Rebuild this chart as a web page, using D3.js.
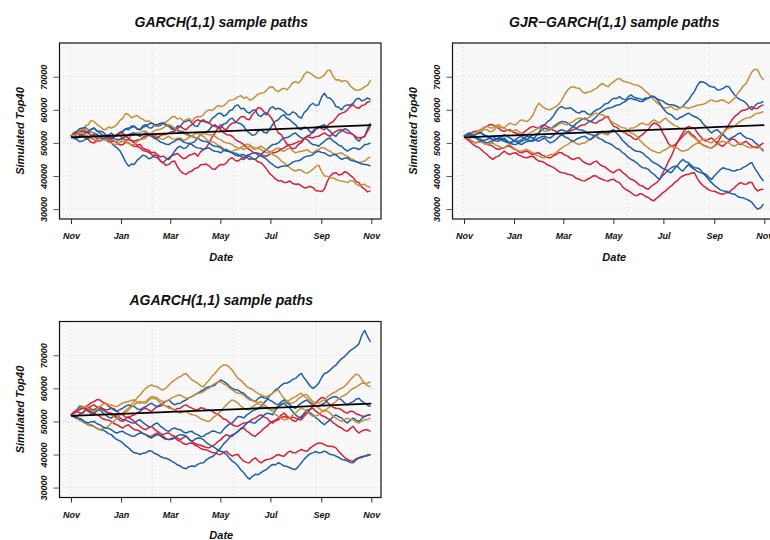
<!DOCTYPE html>
<html>
<head>
<meta charset="utf-8">
<script src="https://cdn.jsdelivr.net/npm/d3@7"></script>
<style>
  html, body { margin: 0; padding: 0; background: #ffffff; }
  svg { display: block; }
  text { font-family: "Liberation Sans", Arial, Helvetica, sans-serif; font-weight: bold; font-style: italic; fill: #111; }
</style>
</head>
<body>
<svg id="chart" width="770" height="540"></svg>
<script>
// Simulated Top40 index paths, twice-weekly observations from 1 Nov 2019 to 31 Oct 2020,
// in thousands of index points.

// ---- GARCH(1,1) ----
const garch1 = [52, 52.9, 53, 53.2, 54, 53.1, 53, 54.1, 54.5, 53.6, 53.5, 53.4, 52.5, 52.2, 53, 52.1, 52, 53.1, 53.5, 54.3, 54, 55.1, 55, 54.1, 54, 55.2, 55.5, 54.6, 54.5, 55.4, 55, 55.3, 56, 55.2, 55, 54.2, 54, 55.1, 55, 56.2, 56.5, 56.9, 56, 55.1, 55, 56.5, 57, 56.2, 56, 57.4, 58, 58.9, 59, 58.1, 58.5, 59.7, 60, 61.2, 61.5, 60.3, 60.5, 59.4, 59, 59.8, 60, 58.4, 58, 58.9, 58.5, 60.3, 61, 60.2, 60.5, 60.1, 59.5, 58.6, 58.5, 59.4, 59, 57.9, 57.5, 59.2, 60, 61.3, 62, 61.3, 61.5, 63.8, 65, 63.7, 63.5, 62.6, 61, 60.8, 60, 61.2, 61.5, 61.4, 62, 63.2, 63.5, 62.7, 63, 63.6, 63];
const garch2 = [52, 52.6, 51.5, 51.9, 52.5, 51.4, 51, 50.2, 50, 50.9, 50.5, 51.2, 51.5, 52.4, 52, 51.7, 52.5, 52.1, 51.5, 50.8, 51, 50.7, 50, 49.3, 49.5, 48.4, 48, 47.8, 47, 47.2, 46.5, 45.8, 46, 45.4, 45, 46.1, 46.5, 46.8, 46, 45.2, 45.5, 46.3, 46.5, 46.9, 46, 47.3, 48, 48.6, 50, 51.8, 53, 54.6, 55.5, 54.3, 54, 55.3, 56, 56.1, 57, 57.9, 58, 57.2, 57, 58.6, 59.5, 60.7, 60.5, 59.4, 59, 58.2, 57, 54.8, 53, 52.5, 51, 49.6, 49, 48.2, 48.5, 49.6, 50, 51.3, 52, 52.4, 53.5, 54.5, 55, 54.3, 54, 55.2, 56, 56.4, 57.5, 58.6, 59, 59.3, 60, 61, 61.5, 60.7, 60.5, 61.3, 61.5, 62.4, 62.5];
const garch3 = [52, 52.8, 53, 53.9, 54, 55.2, 55.5, 56.8, 56.5, 55.6, 55, 54.2, 54, 54.8, 54.5, 54.9, 55.5, 56.8, 57.5, 58.9, 58.5, 57.6, 58, 58.3, 57.5, 57.1, 56.5, 56.7, 56, 55.2, 55, 55.9, 56, 56.3, 57, 57.8, 58, 57.2, 57.5, 56.6, 57, 57.4, 56.5, 57.6, 58, 57.9, 58.5, 59.6, 60, 59.8, 60.5, 61.3, 61, 61.2, 62, 62.9, 63, 63.3, 64, 64.3, 63.5, 63.9, 63, 63.2, 64, 64.8, 65, 65.2, 66, 66.9, 67, 65.9, 65.5, 66.2, 66.5, 66.1, 67, 68.2, 68.5, 68.1, 69, 70.7, 71.5, 71.1, 70.5, 69.8, 69.5, 69.9, 70.5, 71.8, 72, 70.2, 69, 69.1, 68.5, 68.9, 68.5, 67.2, 66.5, 65.9, 66, 66.3, 67, 67.4, 69];
const garch4 = [52, 53.1, 53.5, 54.3, 54.5, 54.6, 54, 53.2, 53, 52.7, 52, 51.2, 51, 50.8, 50, 49.1, 48.5, 47.6, 46, 44.2, 43, 43.6, 43.5, 44.8, 45.5, 46.3, 46, 45.2, 45.5, 46.4, 46, 44.6, 44, 44.9, 45.5, 46.2, 47.5, 48.6, 49, 48.3, 48.5, 49.6, 50, 50.4, 51.5, 52.6, 53, 53.2, 54, 55.1, 55.5, 54.8, 54.5, 55.7, 56, 57.1, 57.5, 56.4, 56, 55.8, 55, 53.6, 53, 52.3, 52.5, 53.6, 54, 53.2, 53, 54.2, 55.5, 56.6, 57, 58.1, 58.5, 57.4, 57, 56.1, 55.5, 54.3, 54, 54.8, 54.5, 53.4, 53, 54.1, 54.5, 55.2, 55.5, 54.2, 53.5, 52.4, 52, 53.1, 53.5, 54.3, 54, 53.1, 52.5, 51.2, 50.5, 51.6, 52, 54.3, 56];
const garch5 = [52, 52.7, 53, 52.4, 52.5, 51.8, 51.5, 51.6, 51, 50.4, 50.5, 51.1, 51, 50.3, 50.5, 50.6, 50, 49.4, 49.5, 50.2, 50, 49.3, 49, 48.9, 48.5, 47.7, 47.5, 47.2, 46.5, 45.7, 45.5, 44.6, 44, 43.2, 43.5, 44.3, 44.5, 42.7, 41.5, 40.8, 40.5, 41.2, 41.5, 42.3, 42.5, 43.4, 43.5, 43.6, 43, 42.2, 42, 42.9, 43.5, 43.4, 44, 45.1, 45.5, 44.7, 44.5, 45.2, 45, 45.8, 46, 45.2, 45, 44.2, 44, 43.1, 42, 40.7, 40, 39.1, 38.5, 38.6, 38, 38.1, 38.5, 37.7, 37.5, 37.6, 37, 36.4, 36.5, 36.9, 36.5, 35.6, 35.5, 35.3, 36, 38.4, 40, 40.8, 41, 40.3, 40.5, 41.3, 41, 40.2, 39.5, 38.3, 38, 36.6, 36, 35.2, 35.5];
const garch6 = [52, 52.4, 52.5, 53.3, 53.5, 54.3, 54, 53.2, 53, 52.7, 52, 51.3, 51, 51.7, 51.5, 50.6, 50.5, 50.9, 51, 51.8, 51.5, 52.2, 52.5, 53.1, 53, 53.6, 53.5, 52.8, 52.5, 52.4, 52, 51.3, 51, 51.6, 52, 51.3, 51, 51.4, 51.5, 50.8, 51, 51.7, 52, 52.8, 53, 52.3, 52, 51.1, 50.5, 50.4, 50, 49.3, 49, 48.2, 48, 47.4, 47.5, 47.9, 48, 48.7, 49, 49.6, 49.5, 48.8, 48.5, 48.4, 48, 47.3, 47, 47.4, 47.5, 48.2, 48.5, 47.8, 47.5, 48.1, 48.5, 47.6, 47, 47.3, 47.5, 47.6, 48, 47.3, 47, 47.7, 48, 48.6, 48.5, 47.8, 47.5, 46.8, 46.5, 46.9, 47, 46.3, 46, 45.3, 45, 44.3, 44, 44.3, 44.5, 45.3, 45.8];
const garch7 = [52, 51.6, 51.5, 52.2, 52.5, 53.2, 53.5, 54.1, 54.5, 53.6, 53, 52.3, 52, 51.5, 51.5, 52.1, 52.5, 53.2, 53.5, 54.3, 54.5, 54.6, 55, 54.3, 54, 54.7, 55, 55.7, 56, 55.6, 55.5, 55.9, 56, 55.6, 55.5, 54.6, 54, 53.9, 53.5, 53.4, 53, 52.3, 52, 51.6, 51.5, 50.8, 50.5, 50.4, 50, 49.3, 49, 48.9, 48.5, 47.8, 47.5, 47.4, 47, 46.3, 46, 46.4, 46.5, 45.6, 45, 45.3, 45, 45.8, 46.5, 47.3, 48, 48.8, 49.5, 49.6, 50, 50.9, 51.5, 51.6, 52, 52.7, 53, 52.1, 51.5, 51.4, 51, 50.1, 49.5, 49.4, 49, 49.8, 50.5, 51.2, 51.5, 50.6, 50, 49.3, 49, 48.1, 47.5, 48.1, 48.5, 48.4, 48, 48.6, 49.5, 49.6, 50];
const garch8 = [52, 52.1, 52.5, 53.2, 53.5, 53.6, 53, 52.3, 52, 51.4, 51.5, 52.1, 52, 51.3, 51, 51.9, 52.5, 53.1, 53, 52.1, 51.5, 50.7, 50.5, 50.9, 51, 51.7, 52, 52.6, 52.5, 51.8, 51.5, 52.2, 52.5, 52.6, 53, 53.4, 53.5, 54.4, 55, 54.3, 54, 54.9, 55.5, 56.4, 57, 56.6, 56.5, 56.4, 56, 55.3, 55, 54.7, 54, 53.1, 52.5, 52.4, 52, 51.1, 50.5, 50.1, 49.5, 48.6, 48, 47.3, 47, 46.9, 46.5, 46.1, 46, 46.6, 47, 47.1, 47.5, 48.2, 48.5, 49.1, 49.5, 49.6, 50, 50.4, 50.5, 51.4, 52, 51.6, 51.5, 51.9, 52, 52.6, 53, 52.4, 52, 52.9, 53.5, 53.9, 54, 53.4, 53, 52.9, 52.5, 51.8, 51.5, 51.6, 52, 53.6, 55];
const garch9 = [52, 52.3, 52.5, 53.1, 53, 52.4, 52, 51.3, 51, 50.6, 50.5, 50.9, 51, 50.3, 50, 49.6, 49.5, 50.2, 50.5, 50.4, 50, 49.4, 49.5, 50.4, 51, 51.1, 51.5, 52.4, 53, 53.7, 54, 54.1, 54.5, 55.2, 55.5, 55.1, 54.5, 53.6, 53, 52.9, 52.5, 52.1, 52, 51.6, 51.5, 52.4, 53, 52.6, 52.5, 52.4, 52, 51.3, 51, 50.3, 50, 49.9, 49.5, 48.9, 48.5, 48.4, 48, 48.6, 49, 48.3, 48, 48.6, 49, 48.4, 48, 47.1, 46.5, 46.1, 45.5, 44.6, 44, 43.1, 42.5, 41.8, 41.5, 41.9, 41.8, 41.1, 40.8, 41.4, 42, 42.9, 43.3, 41.4, 40, 39.9, 39.5, 39.4, 39, 38.6, 38.5, 38.3, 38, 38.6, 38.5, 37.6, 37, 37.4, 37.5, 36.8, 36.5];
const garch10 = [52, 51.4, 51, 50.4, 50.5, 51.1, 51.5, 52.1, 52.5, 52.4, 52, 51.4, 51.5, 52.1, 52, 51.3, 51, 51.1, 51.5, 52.2, 52.5, 52.9, 53, 52.4, 52, 52.7, 53, 52.3, 52, 51.4, 51, 50.3, 50, 49.6, 49.5, 50.1, 50.5, 51.1, 51, 50.3, 50, 49.9, 49.5, 48.8, 48.5, 48.4, 48, 48.4, 48.5, 47.8, 47.5, 47.4, 47, 47.7, 48, 47.4, 47, 46.9, 46.5, 45.9, 45.5, 46.2, 46.5, 46.9, 47, 46.3, 46, 45.6, 45, 44.1, 43.5, 42.8, 42.5, 42.9, 43, 43.1, 43.5, 44.2, 44.5, 44.6, 45, 45.7, 46, 46.1, 46.5, 47.2, 47.5, 47.1, 47, 46.4, 46, 46.4, 46.5, 45.6, 45, 45.4, 45.5, 44.8, 44.5, 44.4, 44, 43.6, 43.5, 43.4, 43];

// ---- GJR-GARCH(1,1) ----
const gjr1 = [52, 52.7, 53, 52.6, 52.5, 53.2, 53, 52.3, 52, 51.3, 51, 50.6, 50.5, 51.2, 51.5, 50.6, 50, 50.4, 50.5, 49.8, 49.5, 50.1, 50.5, 50.6, 51, 52.1, 53, 54.6, 55.5, 56.4, 57, 58.1, 59.5, 60.6, 61, 60.4, 60.5, 60.6, 60, 59.3, 59, 59.6, 59.5, 58.7, 58.5, 59.4, 60, 60.3, 61, 61.8, 62, 62.9, 63.5, 63.4, 64, 63.3, 63, 63.9, 64.5, 63.8, 63.5, 63.4, 63, 63.6, 63.5, 64.2, 64, 63.3, 63, 62.7, 62, 61.6, 61.5, 61.4, 61, 60.6, 61, 62.1, 63, 64.4, 65.5, 67.3, 68.5, 68.4, 68, 67.3, 67, 66.8, 66, 66.1, 66.5, 67.1, 67, 65.6, 64.5, 63.6, 63, 62.7, 62, 60.8, 60, 61.2, 62, 62.1, 62.5];
const gjr2 = [52, 52.1, 52.5, 53.3, 53.5, 53.6, 54, 54.7, 55, 55.6, 55.5, 54.8, 54.5, 53.7, 53.5, 53.9, 54, 53.3, 53, 52.6, 52.5, 53.4, 54, 54.7, 55, 54.6, 54.5, 55.2, 55.5, 54.8, 54.5, 53.8, 53.5, 52.8, 52.5, 52.9, 53, 53.7, 54, 54.4, 55, 55.4, 55.5, 56.2, 56.5, 56.1, 56, 56.7, 57, 57.8, 58, 56.2, 55, 54.7, 54, 53.3, 53, 52.4, 52, 51.2, 51, 51.9, 52.5, 53.4, 54, 55.3, 56, 55.7, 55, 53.1, 51.5, 49.8, 49, 49.3, 50, 51.1, 52, 52.9, 53.5, 52.6, 52, 50.9, 50, 49.3, 49, 48.6, 48.5, 49.1, 50, 51.6, 53, 54.2, 55.5, 56.9, 58, 58.6, 59.5, 59.9, 60, 60.6, 61, 60.4, 60.5, 61.2, 61.5];
const gjr3 = [52, 52.8, 53, 52.6, 52.5, 53.3, 53.5, 54.1, 54, 53.4, 53.5, 54.5, 55, 54.6, 54.5, 55.4, 56, 55.6, 55.5, 56.4, 57, 56.6, 56.5, 57.3, 58.5, 60.6, 62, 61.2, 60.5, 60.1, 60, 60.6, 61, 61.8, 63, 64.7, 66, 66.8, 67, 66.6, 66.5, 65.6, 65, 65.4, 65.5, 66.1, 66.5, 67.3, 68, 67.4, 67, 67.9, 68.5, 69.2, 69.5, 68.8, 68.5, 68.3, 68, 67.6, 67.5, 67.1, 66.5, 65.6, 65, 63.9, 63, 62.1, 61.5, 60.8, 60.5, 60.8, 61, 60.3, 60, 60.6, 61, 60.7, 60.5, 60.8, 61, 61.4, 61.5, 61.7, 62, 62.6, 63, 62.6, 62.5, 62.9, 63, 62.4, 62, 62.8, 63.5, 64.9, 66, 67.2, 68, 69.8, 71.5, 72.3, 72, 70.2, 69];
const gjr4 = [52, 51.6, 51.5, 52.1, 52.5, 52.9, 53, 52.4, 52, 51.4, 51, 51.2, 51.5, 50.8, 50.5, 50.1, 50, 50.6, 51, 51.7, 52, 51.4, 51, 51.9, 52.5, 52.6, 53, 53.9, 54.5, 54.1, 54, 54.9, 55.5, 56.1, 56.5, 56.4, 56, 55.3, 55, 55.9, 56.5, 57.2, 57.5, 56.8, 56.5, 57.1, 58, 58.9, 59.5, 60.1, 60.5, 60.6, 61, 61.4, 61.5, 62.1, 62.5, 63.2, 63.5, 63.1, 63, 62.6, 62.5, 63.1, 63.5, 63.9, 64, 63.2, 62, 60.6, 59.5, 58.8, 58.5, 57.6, 57, 57.7, 58, 58.6, 59, 58.4, 58, 57.6, 57, 55.8, 55, 53.8, 53, 53.7, 54, 53.1, 52.5, 51.6, 51, 51.6, 52, 52.7, 53, 52.1, 51.5, 51.3, 51, 50.1, 49.5, 48.4, 47.5];
const gjr5 = [52, 51.3, 51, 50.4, 50, 50.3, 50.5, 49.8, 49.5, 49.4, 49, 48.3, 48, 48.4, 48.5, 49.1, 49, 48.3, 48, 47.3, 47, 47.4, 47.5, 46.8, 46.5, 46.9, 47, 46.3, 46, 45.6, 45.5, 46.1, 46.5, 47.1, 47, 46.3, 46, 45.3, 45, 45.4, 45.5, 44.6, 44, 43.6, 43.5, 44.2, 44.5, 43.6, 43, 42.7, 42, 41.3, 41, 41.7, 42, 41.1, 40.5, 39.6, 39, 38.7, 38, 37.2, 37, 36.3, 36, 36.9, 37.5, 38.1, 39, 40.9, 42.5, 44.4, 46, 48.1, 50, 51.6, 53, 54.3, 55, 54.6, 54.5, 53.1, 52, 51.1, 50.5, 51.2, 51.5, 50.6, 50, 49.3, 49, 49.9, 50.5, 51.2, 51, 50.1, 49.5, 50.1, 50.5, 49.6, 49, 48.6, 48.5, 49.4, 50];
const gjr6 = [52, 51.4, 51.5, 52.3, 53, 53.7, 54, 54.6, 55, 54.6, 54.5, 55.2, 55.5, 54.9, 54.5, 53.9, 53.5, 53.6, 54, 53.4, 53, 52.6, 52.5, 53.1, 53.5, 54.1, 54.5, 53.9, 53.5, 53.6, 54, 54.6, 55, 55.7, 56, 55.6, 55.5, 56.1, 56.5, 57.2, 57.5, 57.4, 57, 57.6, 58, 58.7, 59, 58.6, 58.5, 58.1, 57.5, 56.6, 56, 55.6, 55, 54.6, 54.5, 53.6, 53, 52.7, 52, 50.9, 50, 49.1, 48.5, 47.8, 47.5, 47.1, 47, 47.6, 48, 48.6, 49, 48.6, 48.5, 47.8, 47.5, 47.7, 48, 48.9, 49.5, 49.9, 50, 49.4, 49, 48.6, 48.5, 49.1, 49.5, 50.2, 50.5, 50.1, 50, 49.3, 49, 49.6, 50, 49.4, 49, 48.6, 48.5, 48.9, 49, 48.4, 48];
const gjr7 = [52, 52.6, 53, 52.3, 52, 51.4, 51, 50.3, 50, 50.4, 50.5, 51.1, 51.5, 51.1, 51, 50.3, 50, 49.6, 49.5, 50.1, 50.5, 50.9, 51, 50.6, 50.5, 51.1, 51.5, 51.9, 52, 51.6, 51.5, 52.2, 53, 53.7, 54, 53.6, 53.5, 54.3, 55, 54.3, 54, 53.9, 53.5, 52.8, 52.5, 52.3, 52, 51.3, 51, 50.3, 50, 49.6, 49, 48.3, 48, 47.1, 46.5, 45.6, 45, 44.6, 44, 43.1, 42.5, 42.4, 42, 41.1, 40.5, 39.6, 39, 40.2, 41, 41.8, 42.5, 42.9, 43, 42.1, 41.5, 42.6, 43.5, 42.6, 42, 41.4, 41, 40.9, 40.5, 39.6, 39, 40.1, 41, 41.9, 42.5, 42.1, 42, 41.6, 41.5, 41.9, 42, 42.6, 43, 43.7, 44, 42.3, 41, 39.6, 38.5];
const gjr8 = [52, 51.1, 50.5, 49.6, 49, 48.7, 48, 47.1, 46.5, 45.6, 45, 45.7, 46, 46.8, 47.5, 46.8, 46.5, 46.9, 47, 46.3, 46, 45.6, 45.5, 45.9, 46, 45.1, 44.5, 44.4, 44, 43.3, 43, 42.6, 42, 41.3, 41, 40.9, 40.5, 40.4, 40, 39.3, 39, 38.6, 38.5, 39.1, 39.5, 40.1, 40, 39.3, 39, 38.6, 38.5, 38.9, 39, 38.3, 38, 36.8, 36, 35.6, 35, 34.3, 34, 34.6, 34.5, 33.8, 33.5, 32.8, 32.5, 33.4, 34, 34.9, 35.5, 36.4, 37, 37.9, 38.5, 39.4, 40, 40.4, 40.5, 40.9, 41, 39.3, 38, 37.1, 36.5, 35.8, 35.5, 35.4, 35, 34.6, 34.5, 34.9, 35, 35.9, 36.5, 37.4, 38, 37.6, 37.5, 38.1, 38, 36.4, 35.5, 35.9, 36];
const gjr9 = [52, 51.6, 51, 50.3, 50, 50.4, 50.5, 49.8, 49.5, 49.9, 50, 49.4, 49, 48.6, 48.5, 49.2, 49.5, 48.6, 48, 47.6, 47.5, 47.9, 48, 47.4, 47, 46.3, 46, 45.6, 45.5, 46.1, 46.5, 46.6, 47, 47.9, 48.5, 49.1, 49.5, 50.2, 50.5, 49.8, 49.5, 49.9, 50, 50.7, 51, 51.6, 52, 52.7, 53, 52.6, 52.5, 53.2, 53.5, 53.6, 54, 53.4, 53, 53.9, 54.5, 54.6, 55, 55.7, 56, 55.6, 55.5, 56.4, 57, 56.4, 56, 56.9, 57.5, 56.6, 56, 55.3, 55, 54.4, 54, 53.6, 53, 52.1, 51.5, 50.8, 50.5, 51.1, 51, 50.3, 50, 50.9, 51.5, 52.4, 53, 53.9, 54.5, 54.6, 55, 55.9, 56.5, 57.1, 57.5, 57.6, 58, 58.7, 59, 59.1, 59.5];
const gjr10 = [52, 52.4, 52.5, 51.8, 51.5, 50.9, 50.5, 50.8, 51, 51.6, 52, 51.3, 51, 51.9, 52.5, 51.9, 51.5, 50.9, 50.5, 50.6, 51, 51.7, 52, 51.6, 51.5, 50.8, 50.5, 51.1, 51.5, 50.6, 50, 50.4, 51, 51.9, 52.5, 51.8, 51.5, 50.8, 50.5, 51.1, 51.5, 51.9, 52, 51.3, 51, 51.9, 52.5, 53.2, 53.5, 53.1, 53, 53.7, 54, 52.9, 52, 50.8, 50, 49.1, 48.5, 47.8, 47.5, 47.4, 47, 46.1, 45.5, 44.6, 44, 43.6, 43, 42.3, 42, 41.3, 41, 42.1, 43, 44.2, 45, 44.3, 44, 43.1, 42.5, 42.4, 42, 40.8, 40, 38.9, 38, 37.1, 36.5, 35.8, 35.5, 35.4, 35, 34.6, 34.5, 33.8, 33.5, 33.4, 33, 32.6, 32, 30.8, 30, 30.4, 31.5];

// ---- AGARCH(1,1) ----
const agarch1 = [52, 52.9, 53.5, 54.6, 54.5, 53.6, 53, 52.4, 52.5, 53.2, 53.5, 52.6, 52, 51.3, 51, 51.7, 52, 51.1, 50.5, 50.4, 50, 49.6, 49.5, 50.2, 50.5, 49.6, 49, 48.4, 48.5, 49.2, 49.5, 48.6, 48, 47.3, 47, 47.7, 48, 47.6, 47.5, 46.8, 46.5, 46.9, 47, 46.3, 46, 45.4, 45.5, 46.2, 46.5, 47.1, 47, 46.6, 46.5, 47.6, 48.5, 49.2, 49.5, 50.6, 51.5, 51.4, 51, 51.9, 52.5, 53.2, 53.5, 53.9, 54.5, 55.6, 56.5, 57.8, 58.5, 59.6, 60, 60.9, 61.5, 61.6, 62, 62.7, 63, 63.9, 64.5, 63.1, 62, 60.7, 60, 60.6, 61.5, 63.2, 64.5, 64.8, 65.5, 66.4, 67, 68.1, 69, 69.6, 70.5, 71.4, 72, 72.6, 73.5, 76.1, 77.5, 75.6, 74];
const agarch2 = [52, 52.3, 53, 53.7, 54, 54.3, 55, 55.6, 56, 56.6, 56.5, 55.8, 55.5, 54.6, 54, 53.8, 53, 52.3, 52, 51.3, 51, 51.7, 52, 52.6, 53, 53.8, 54, 53.4, 53, 53.9, 54.5, 54.6, 55, 54.6, 54.5, 53.8, 53.5, 53.9, 54, 54.7, 55, 54.4, 54, 53.6, 53.5, 54.1, 54, 53.4, 53.5, 53.1, 52.5, 52.2, 51.5, 50.7, 50.5, 49.6, 49, 48.6, 48.5, 49.1, 49.5, 49.6, 50, 50.7, 51, 51.6, 52, 51.3, 51, 50.1, 49.5, 50.2, 50.5, 51.2, 51.5, 51.1, 51, 51.3, 51, 50.6, 50.5, 51.6, 52.5, 53.7, 54.5, 55.6, 56.5, 57.2, 57, 55.8, 55, 54.3, 54, 53.9, 53.5, 52.8, 52.5, 53.1, 53, 52.3, 52, 51.6, 51.5, 51.9, 52];
const agarch3 = [52, 52.7, 53, 53.6, 54, 54.6, 54.5, 53.8, 53.5, 53.9, 54, 53.3, 53, 52.4, 52, 51.4, 51.5, 52.1, 52.5, 53.4, 54, 55.1, 56, 57.2, 58, 59.1, 60, 60.7, 61, 60.6, 60.5, 59.8, 59.5, 60.1, 61, 61.9, 62.5, 63.2, 63.5, 64.2, 64.5, 63.4, 62.5, 62.1, 61.5, 60.8, 60.5, 61.6, 62.5, 63.7, 64.5, 65.6, 66.5, 67.1, 67, 66.4, 65.5, 64.1, 63, 62.4, 61.5, 60.6, 60, 59.7, 59, 58.4, 58, 57.6, 57.5, 57.9, 58.5, 59.2, 59.5, 58.1, 57, 56.1, 55.5, 55.6, 56, 56.9, 57.5, 58.1, 58, 56.9, 56, 55.6, 55.5, 56.1, 56.5, 57.4, 58, 58.6, 59, 59.7, 60, 60.6, 61.5, 62.6, 63.5, 64.3, 64, 62.6, 61.5, 61.6, 62];
const agarch4 = [52, 51.6, 51.5, 52.1, 52.5, 53.4, 54, 53.6, 53.5, 54.1, 54.5, 53.9, 53.5, 53.6, 54, 53.4, 53, 53.6, 54, 54.6, 55, 54.6, 54.5, 53.8, 53.5, 54.1, 54.5, 55.1, 55.5, 54.8, 54.5, 55.1, 55.5, 56.1, 56.5, 55.6, 55, 55.4, 55.5, 56.1, 56.5, 57.1, 57.5, 58.1, 58.5, 59.1, 59.5, 60.2, 60.5, 60.6, 61, 61.9, 62.5, 62.1, 61.5, 60.6, 60, 59.6, 59.5, 58.8, 58.5, 57.6, 57, 56.3, 56, 56.9, 57.5, 57.1, 57, 56.4, 56, 55.3, 55, 55.9, 56.5, 55.6, 55, 54.3, 54, 54.9, 55.5, 56.1, 56.5, 55.6, 55, 54.6, 54.5, 55.1, 55.5, 56.4, 57, 57.4, 57.5, 56.9, 56.5, 55.6, 55, 55.6, 56, 56.7, 57, 56.1, 55.5, 54.9, 54.5];
const agarch5 = [52, 52.6, 53, 52.6, 52.5, 53.4, 54, 54.6, 55, 54.3, 54, 53.6, 53, 52.6, 52.5, 51.7, 51, 50.3, 50, 50.9, 51.5, 50.6, 50, 49.1, 48.5, 47.8, 47.5, 48.1, 48.5, 47.6, 47, 46.4, 46, 46.4, 46.5, 45.8, 45.5, 44.9, 44.5, 45.1, 45.5, 44.6, 44, 43.3, 43, 42.8, 42.5, 42.1, 42, 42.6, 43, 43.9, 44.5, 45.4, 46, 45.6, 45.5, 46.4, 47, 47.7, 48, 47.1, 46.5, 45.8, 45.5, 46.3, 47, 47.9, 48.5, 49.4, 50, 50.4, 51, 51.9, 52.5, 51.6, 51, 50.3, 50, 50.9, 51.5, 52.4, 53, 53.7, 54, 53.1, 52.5, 51.8, 51.5, 50.9, 50.5, 49.6, 49, 48.4, 48, 47.3, 47, 47.9, 48.5, 47.3, 46.5, 47.1, 47.5, 47.4, 47];
const agarch6 = [52, 52.6, 53, 53.9, 54.5, 54.1, 54, 53.3, 53, 53.8, 54.5, 55.1, 55.5, 55.1, 55, 54.6, 54.5, 55.1, 55.5, 55.9, 56, 56.4, 56.5, 55.8, 55.5, 55.9, 56, 56.9, 57.5, 57.4, 57, 56.3, 56, 56.1, 56.5, 57.1, 57.5, 57.9, 58, 57.4, 57, 57.1, 57.5, 58.1, 58.5, 58.6, 59, 59.7, 60, 60.9, 61.5, 61.9, 62, 61.3, 61, 60.1, 59.5, 58.9, 58.5, 58.4, 58, 57.1, 56.5, 56.4, 56, 55.3, 55, 54.4, 54, 53.6, 53.5, 54.1, 54.5, 55.1, 55.5, 56.1, 56.5, 57.1, 57.5, 58.1, 58.5, 57.6, 57, 56.1, 55.5, 54.6, 54, 53.4, 53, 53.9, 54.5, 55.4, 56, 56.9, 57.5, 57.9, 58.5, 59.4, 60, 60.4, 61, 61.6, 61.5, 60.8, 60.5];
const agarch7 = [52, 51.3, 51, 50.6, 50, 49.4, 49, 48.9, 48.5, 47.9, 47.5, 47.4, 47, 46.3, 46, 45.1, 44.5, 44.1, 43.5, 42.6, 42, 41.1, 40.5, 40.4, 40, 40.4, 40.5, 41.1, 41, 40.3, 40, 39.4, 39, 38.9, 38.5, 37.9, 37.5, 36.8, 36.5, 35.9, 35.7, 36.3, 36.5, 36.4, 37, 37.4, 37.5, 38.4, 39, 39.3, 40, 41.1, 42, 43.2, 44, 45.1, 46, 46.3, 47, 47.9, 48.5, 49.4, 50, 49.6, 49.5, 50.4, 51, 51.9, 52.5, 52.4, 52, 53.4, 54.5, 55.1, 55.5, 54.6, 54, 52.9, 52, 51.3, 51, 52.4, 53.5, 52.6, 52, 51.1, 50.5, 49.6, 49, 49.8, 50.5, 51.4, 52, 51.4, 51, 50.1, 49.5, 50.4, 51, 50.4, 50, 50.9, 51.5, 51.9, 52];
const agarch8 = [52, 52.7, 53, 53.6, 54, 53.9, 53.5, 52.8, 52.5, 52.1, 51.5, 50.8, 50.5, 50.4, 50, 49.3, 49, 48.4, 48, 48.7, 49, 48.1, 47.5, 47.4, 47, 46.3, 46, 45.6, 45.5, 46.1, 46.5, 45.6, 45, 44.6, 44.5, 44.9, 45, 44.3, 44, 43.3, 43, 43.4, 43.5, 42.8, 42.5, 41.8, 41.5, 41.4, 41, 40.6, 40.5, 40.1, 40, 40.7, 41, 40.1, 39.5, 39.9, 40, 38.8, 38, 37.6, 37.5, 38.4, 39, 38.1, 37.5, 38.1, 38.5, 38.6, 39, 39.6, 40, 39.6, 39.5, 40.4, 41, 40.6, 40.5, 41.1, 41.5, 41.1, 41, 41.9, 42.5, 43.1, 43.5, 43.4, 43, 42.6, 42.5, 42.4, 42, 40.9, 40, 39.1, 38.5, 38.1, 38, 38.7, 39, 39.4, 39.5, 39.6, 40];
const agarch9 = [52, 51.4, 51, 50.3, 50, 49.6, 49, 48.6, 48.5, 47.8, 47.5, 47.9, 48, 48.6, 49.5, 50.1, 51, 51.9, 52.5, 52.8, 53.5, 54.4, 55, 55.7, 56, 55.6, 55.5, 56.4, 57, 56.9, 56.5, 55.6, 55, 54.6, 54, 53.9, 53.5, 52.8, 52.5, 52.9, 53, 52.4, 52, 51.9, 51.5, 50.8, 50.5, 50.1, 50, 50.9, 51.5, 52.4, 53, 54.1, 55, 55.9, 56.5, 56.1, 55.5, 54.6, 54, 53.6, 53.5, 54.4, 55, 55.7, 56, 55.1, 54.5, 53.6, 53, 52.1, 51.5, 50.9, 50.5, 50.6, 51, 51.9, 52.5, 53.4, 54, 53.6, 53, 52.1, 51.5, 51.6, 52, 52.9, 53.5, 53.1, 52.5, 51.6, 51, 50.4, 50, 50.6, 51, 50.6, 50.5, 49.8, 49.5, 50.1, 50.5, 50.6, 51];
const agarch10 = [52, 51.4, 51, 50.9, 50.5, 49.8, 49.5, 49.9, 50, 49.3, 49, 48.4, 48, 47.9, 47.5, 46.8, 46.5, 46.9, 47, 46.4, 46, 45.6, 45.5, 46.1, 46.5, 46.4, 46, 45.3, 45, 45.6, 46, 45.9, 45.5, 44.8, 44.5, 44.6, 45, 45.7, 46, 45.9, 45.5, 44.6, 44, 44.6, 45, 44.9, 44.5, 43.6, 43, 42.6, 42, 41.3, 41, 40.6, 40, 38.9, 38, 37.4, 36.5, 35.3, 34.5, 33.3, 32.5, 33.4, 34, 33.9, 34.5, 35.1, 35.5, 36.4, 37, 36.9, 37.5, 37.1, 36.5, 36.4, 36, 35.6, 35.5, 36.4, 37.5, 38.6, 39.5, 40.2, 40.5, 40.9, 40.5, 40.6, 41, 40.6, 40, 39.9, 39.5, 39.1, 38.5, 38.4, 38, 37.6, 37.5, 38.4, 39, 39.1, 39.5, 39.9, 40];

// Expected index level at each month start (thousands)
const meanPath = [51.7, 52.0, 52.3, 52.6, 52.9, 53.2, 53.5, 53.8, 54.1, 54.4, 54.8, 55.1, 55.4];

// Axis ticks
const yTicks = [30000, 40000, 50000, 60000, 70000];
const gridDays = [18200, 18300, 18400, 18500];   // numeric date grid, days since 1970-01-01

const garchPaths = [garch1, garch2, garch3, garch4, garch5, garch6, garch7, garch8, garch9, garch10];
const gjrPaths = [gjr1, gjr2, gjr3, gjr4, gjr5, gjr6, gjr7, gjr8, gjr9, gjr10];
const agarchPaths = [agarch1, agarch2, agarch3, agarch4, agarch5, agarch6, agarch7, agarch8, agarch9, agarch10];

const palette = ["#1d5fa9", "#d81f3c", "#c98e3a"];

const startDate = new Date(Date.UTC(2019, 10, 1));
const endDate = new Date(Date.UTC(2020, 10, 1));
const lastObs = new Date(Date.UTC(2020, 9, 31));
const obsDate = (i, n) => new Date(+startDate + i * (lastObs - startDate) / (n - 1));
const meanDates = d3.utcMonth.range(startDate, new Date(Date.UTC(2020, 10, 2)));
const monthTicks = d3.utcMonth.every(2).range(startDate, new Date(Date.UTC(2020, 10, 2)));

const W = 321.5, H = 176;
const panels = [
  { title: "GARCH(1,1) sample paths", paths: garchPaths, left: 59.5, top: 43 },
  { title: "GJR\u2212GARCH(1,1) sample paths", paths: gjrPaths, left: 452.5, top: 43 },
  { title: "AGARCH(1,1) sample paths", paths: agarchPaths, left: 59.5, top: 321.5 }
];

const svg = d3.select("#chart");

panels.forEach((p, pi) => {
  const g = svg.append("g").attr("transform", `translate(${p.left},${p.top})`);
  const x = d3.scaleUtc().domain([startDate, endDate]).range([11.5, 311.8]);
  const y = d3.scaleLinear().domain([27000, 80200]).range([H, 0]);

  g.append("rect").attr("width", W).attr("height", H).attr("fill", "#f8f8f8");

  const clipId = "clip" + pi;
  g.append("clipPath").attr("id", clipId)
    .append("rect").attr("width", W).attr("height", H);

  // dotted grid
  const grid = g.append("g").attr("stroke", "#d2d2d2").attr("stroke-width", 1).attr("stroke-dasharray", "1,3");
  grid.selectAll("line.h").data(yTicks).join("line").attr("class", "h")
    .attr("x1", 0).attr("x2", W).attr("y1", d => y(d)).attr("y2", d => y(d));
  grid.selectAll("line.v").data(gridDays).join("line").attr("class", "v")
    .attr("y1", 0).attr("y2", H)
    .attr("x1", d => x(new Date(d * 864e5))).attr("x2", d => x(new Date(d * 864e5)));

  // simulated paths
  const lines = g.append("g").attr("clip-path", `url(#${clipId})`);
  lines.selectAll("path.sim").data(p.paths).join("path").attr("class", "sim")
    .attr("d", d => d3.line().x((v, i) => x(obsDate(i, d.length))).y(v => y(v * 1000))(d))
    .attr("fill", "none")
    .attr("stroke", (d, i) => palette[i % palette.length])
    .attr("stroke-width", 1.5)
    .attr("stroke-linejoin", "round");

  const meanLine = d3.line().x((d, i) => x(meanDates[i])).y(d => y(d * 1000));
  lines.append("path").datum(meanPath).attr("d", meanLine)
    .attr("fill", "none").attr("stroke", "#000").attr("stroke-width", 1.8);

  // plot frame
  g.append("rect").attr("width", W).attr("height", H)
    .attr("fill", "none").attr("stroke", "#111").attr("stroke-width", 1.2);

  // x axis
  const xa = g.append("g").attr("transform", `translate(0,${H})`)
    .call(d3.axisBottom(x).tickValues(monthTicks).tickFormat(d3.utcFormat("%b")).tickSize(5).tickPadding(3));
  xa.select(".domain").remove();
  xa.attr("font-size", null).attr("font-family", null);
  xa.selectAll(".tick line").attr("stroke", "#333");
  xa.selectAll(".tick text").attr("y", 13.8).attr("dy", "0.71em").style("font-size", "9px").attr("fill", "#111");

  // y axis
  const ya = g.append("g")
    .call(d3.axisLeft(y).tickValues(yTicks).tickFormat(d3.format("d")).tickSize(6));
  ya.select(".domain").remove();
  ya.attr("font-size", null).attr("font-family", null);
  ya.selectAll(".tick line").attr("stroke", "#555");
  ya.selectAll(".tick text")
    .attr("transform", "rotate(-90)")
    .attr("x", 0).attr("y", -12.3).attr("dy", null)
    .attr("text-anchor", "middle")
    .style("font-size", "9px").attr("fill", "#111");

  // titles and axis labels
  g.append("text").attr("x", W / 2 + 1).attr("y", -16.3)
    .attr("text-anchor", "middle").style("font-size", "14px").attr("fill", "#000")
    .text(p.title);
  g.append("text").attr("x", W / 2 + 1).attr("y", H + 41.6)
    .attr("text-anchor", "middle").style("font-size", "11px").attr("fill", "#000")
    .text("Date");
  g.append("text").attr("transform", `translate(-35.5,${H / 2}) rotate(-90)`)
    .attr("text-anchor", "middle").style("font-size", "11px").attr("fill", "#000")
    .text("Simulated Top40");
});
</script>
</body>
</html>
